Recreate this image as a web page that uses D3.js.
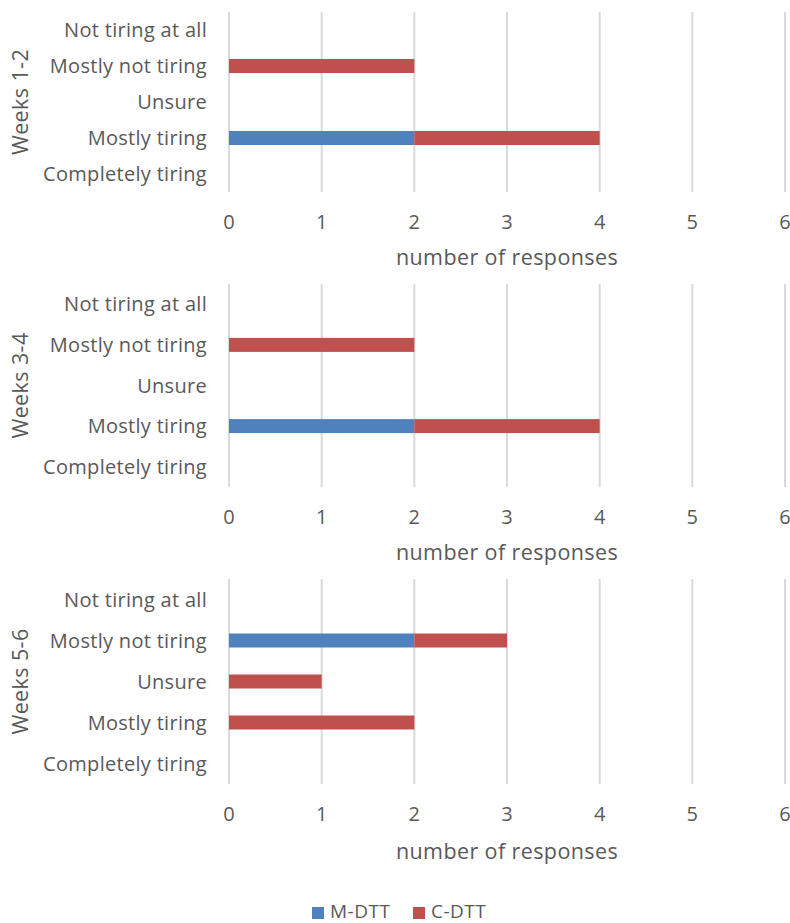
<!DOCTYPE html>
<html><head><meta charset="utf-8">
<script src="https://cdn.jsdelivr.net/npm/d3@7"></script>
<style>
html,body{margin:0;padding:0;background:#fff;}
svg text{font-family:"Open Sans","Noto Sans",sans-serif;fill:#595959;}
</style></head>
<body><svg id="chart" width="790" height="923"></svg>
<script>
const categories = ["Not tiring at all","Mostly not tiring","Unsure","Mostly tiring","Completely tiring"];
const periods = ["Weeks 1-2","Weeks 3-4","Weeks 5-6"];
const seriesNames = ["M-DTT","C-DTT"];
const mdtt_w12 = [0,0,0,2,0];
const cdtt_w12 = [0,2,0,2,0];
const mdtt_w34 = [0,0,0,2,0];
const cdtt_w34 = [0,2,0,2,0];
const mdtt_w56 = [0,2,0,0,0];
const cdtt_w56 = [0,1,1,2,0];
const xTicks = [0,1,2,3,4,5,6];
const axisTitle = "number of responses";

const colors = {"M-DTT":"#4f81bd","C-DTT":"#c0504d"};
const svg = d3.select("#chart");
const x = d3.scaleLinear().domain([0,6]).range([229,785]);

const panels = [
  {name:periods[0], m:mdtt_w12, c:cdtt_w12, top:12, bottom:192, tickY:222, titleY:257},
  {name:periods[1], m:mdtt_w34, c:cdtt_w34, top:284, bottom:487, tickY:517, titleY:552},
  {name:periods[2], m:mdtt_w56, c:cdtt_w56, top:579, bottom:784, tickY:814, titleY:851}
];

panels.forEach(p=>{
  const g = svg.append("g");
  const yc = d3.scaleBand().domain(categories).range([p.top,p.bottom]);
  g.selectAll("line.grid").data(xTicks).join("line")
    .attr("x1",d=>x(d)).attr("x2",d=>x(d))
    .attr("y1",p.top).attr("y2",p.bottom)
    .attr("stroke","#d9d9d9").attr("stroke-width",2);
  const rows = categories.map((cat,i)=>({cat, "M-DTT":p.m[i], "C-DTT":p.c[i]}));
  const stack = d3.stack().keys(seriesNames)(rows);
  stack.forEach(s=>{
    g.selectAll(null).data(s.filter(d=>d[1]-d[0]>0)).join("rect")
      .attr("x",d=>x(d[0])).attr("width",d=>x(d[1])-x(d[0]))
      .attr("y",d=>yc(d.data.cat)+yc.bandwidth()/2-7)
      .attr("height",14)
      .attr("fill",colors[s.key]);
  });
  g.selectAll(null).data(categories).join("text")
    .attr("x",207).attr("y",d=>yc(d)+yc.bandwidth()/2)
    .attr("dy","0.35em").attr("text-anchor","end")
    .attr("font-size",20).attr("letter-spacing",0.3).text(d=>d);
  g.selectAll(null).data(xTicks).join("text")
    .attr("x",d=>x(d)).attr("y",p.tickY).attr("dy","0.35em")
    .attr("text-anchor","middle").attr("font-size",20).text(d=>d);
  g.append("text").attr("x",(x(0)+x(6))/2).attr("y",p.titleY).attr("dy","0.35em")
    .attr("text-anchor","middle").attr("font-size",21.5).attr("letter-spacing",0.4).text(axisTitle);
  const cy=(p.top+p.bottom)/2;
  g.append("text").attr("transform",`translate(20,${cy}) rotate(-90)`)
    .attr("dy","0.35em").attr("text-anchor","middle").attr("font-size",21.5).attr("letter-spacing",0.4).text(p.name);
});

const leg = svg.append("g");
const legItems = [{k:"M-DTT",x:312},{k:"C-DTT",x:413}];
legItems.forEach(it=>{
  leg.append("rect").attr("x",it.x).attr("y",907).attr("width",12).attr("height",12).attr("fill",colors[it.k]);
  leg.append("text").attr("x",it.x+18).attr("y",911).attr("dy","0.35em").attr("font-size",19).attr("letter-spacing",0.5).text(it.k);
});
</script></body></html>
